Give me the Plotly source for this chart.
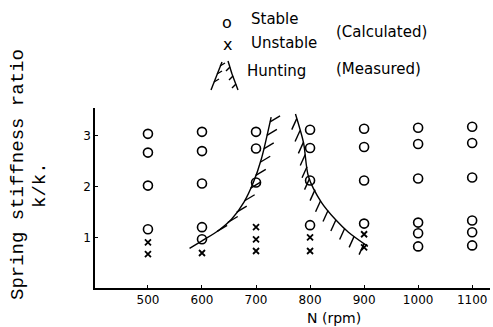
import numpy as np
import plotly.graph_objects as go

# ---- data ----
stable_N = [500]*4 + [600]*5 + [700]*3 + [800]*4 + [900]*4 + [1000]*6 + [1100]*6
stable_k = [3.04, 2.67, 2.02, 1.16,
            3.08, 2.70, 2.06, 1.20, 0.96,
            3.08, 2.75, 2.08,
            3.12, 2.76, 2.12, 1.24,
            3.14, 2.78, 2.12, 1.27,
            3.16, 2.84, 2.16, 1.29, 1.08, 0.82,
            3.18, 2.86, 2.18, 1.33, 1.10, 0.84]
unstable_N = [500, 500, 600, 700, 700, 700, 800, 800, 900, 900]
unstable_k = [0.90, 0.67, 0.69, 1.20, 0.96, 0.73, 1.00, 0.73, 1.06, 0.80]
hunt_left_N = [577, 600, 630, 655, 678, 695, 710, 728]
hunt_left_k = [0.78, 0.93, 1.13, 1.36, 1.70, 2.08, 2.55, 3.37]
hunt_right_N = [773, 788, 797, 821, 847, 871, 907]
hunt_right_k = [3.43, 2.86, 2.20, 1.69, 1.35, 1.10, 0.82]
x_ticks = [500, 600, 700, 800, 900, 1000, 1100]
y_ticks = [1, 2, 3]

# ---- layout geometry ----
W, H = 493, 327
ML, MR, MT, MB = 95, 3, 108, 39
XR = [402, 1133]
YR = [0, 3.55]
pw, ph = W - ML - MR, H - MT - MB
sx = pw / (XR[1] - XR[0])   # px per rpm
sy = ph / (YR[1] - YR[0])   # px per unit k


def hatches(N, k, n, dxp, dyp, t0=0.05, t1=0.95):
    # resample curve in pixel space, add hatch segments
    px = (np.array(N) - XR[0]) * sx
    py = -(np.array(k)) * sy
    seg = np.hypot(np.diff(px), np.diff(py))
    s = np.concatenate([[0], np.cumsum(seg)])
    ts = np.linspace(t0, t1, n) * s[-1]
    hx = np.interp(ts, s, px)
    hy = np.interp(ts, s, py)
    xs, ys = [], []
    for a, b in zip(hx, hy):
        xs += [a / sx + XR[0], (a + dxp) / sx + XR[0], None]
        ys += [-b / sy, -(b + dyp) / sy, None]
    return xs, ys


fig = go.Figure()
line = dict(color="black", width=1.4)
fig.add_trace(go.Scatter(x=hunt_left_N, y=hunt_left_k, mode="lines",
                         line=dict(color="black", width=1.4, shape="spline", smoothing=0.8),
                         showlegend=False))
fig.add_trace(go.Scatter(x=hunt_right_N, y=hunt_right_k, mode="lines",
                         line=dict(color="black", width=1.4, shape="spline", smoothing=0.8),
                         showlegend=False))
hx, hy = hatches(hunt_left_N, hunt_left_k, 10, 10, -6, 0.2, 0.97)
fig.add_trace(go.Scatter(x=hx, y=hy, mode="lines", line=line, showlegend=False))
hx, hy = hatches(hunt_right_N, hunt_right_k, 13, -5, 11, 0.03, 0.97)
fig.add_trace(go.Scatter(x=hx, y=hy, mode="lines", line=line, showlegend=False))

fig.add_trace(go.Scatter(x=stable_N, y=stable_k, mode="markers",
                         marker=dict(symbol="circle-open", size=9,
                                     color="black", line=dict(width=1.6)),
                         showlegend=False))
fig.add_trace(go.Scatter(x=unstable_N, y=unstable_k, mode="markers",
                         marker=dict(symbol="x-thin-open", size=6,
                                     color="black", line=dict(width=1.8)),
                         showlegend=False))


def px2paper(x, y):
    return (x - ML) / pw, (H - MB - y) / ph


font = dict(family="DejaVu Sans", size=12, color="black")
lfont = dict(family="DejaVu Sans", size=15, color="black")
ann = []
for txt, x, y in [("o", 227, 23), ("x", 227, 45)]:
    X, Y = px2paper(x, y)
    ann.append(dict(text=txt, x=X, y=Y, xref="paper", yref="paper",
                    showarrow=False, xanchor="center", yanchor="middle",
                    font=dict(family="DejaVu Sans", size=16, color="black")))
for txt, x, y in [("Stable", 249, 19), ("Unstable", 249, 43), ("Hunting", 245, 71),
                  ("(Calculated)", 334, 32), ("(Measured)", 334, 69)]:
    X, Y = px2paper(x, y)
    ann.append(dict(text=txt, x=X, y=Y, xref="paper", yref="paper",
                    showarrow=False, xanchor="left", yanchor="middle", font=lfont))

# y-axis titles
X, Y = px2paper(18, 175)
ann.append(dict(text="Spring stiffness ratio", x=X, y=Y, xref="paper", yref="paper",
                showarrow=False, textangle=-90, xanchor="center", yanchor="middle",
                font=dict(family="Liberation Mono", size=19, color="black")))
X, Y = px2paper(40, 185)
ann.append(dict(text="k/k.", x=X, y=Y, xref="paper", yref="paper",
                showarrow=False, textangle=-90, xanchor="center", yanchor="middle",
                font=dict(family="Liberation Mono", size=19, color="black")))
X, Y = px2paper(334, 318)
ann.append(dict(text="N (rpm)", x=X, y=Y, xref="paper", yref="paper",
                showarrow=False, xanchor="center", yanchor="middle",
                font=dict(family="DejaVu Sans", size=14, color="black")))

# legend glyph for hunting (paper coords)
shapes = []
def seg(x0, y0, x1, y1):
    a, b = px2paper(x0, y0)
    c, d = px2paper(x1, y1)
    shapes.append(dict(type="line", xref="paper", yref="paper", x0=a, y0=b, x1=c, y1=d,
                       line=dict(color="black", width=1.4)))
seg(211, 90, 222, 62)
for (x, y) in [(214, 82), (217, 74), (220, 66)]:
    seg(x, y, x + 5, y - 3)
seg(228, 61, 232, 74)
seg(232, 74, 238, 90)
for (x, y) in [(230, 67), (233, 76), (236, 84)]:
    seg(x, y, x - 4, y + 4)

fig.update_layout(
    width=W, height=H, margin=dict(l=ML, r=MR, t=MT, b=MB),
    paper_bgcolor="white", plot_bgcolor="white",
    annotations=ann, shapes=shapes, showlegend=False,
    xaxis=dict(range=XR, tickvals=x_ticks, ticktext=[str(v) for v in x_ticks],
               showgrid=False, zeroline=False, showline=True, linecolor="black",
               linewidth=1.5, ticks="inside", ticklen=3, tickcolor="black",
               tickfont=font),
    yaxis=dict(range=YR, tickvals=y_ticks, ticktext=[str(v) for v in y_ticks],
               showgrid=False, zeroline=False, showline=True, linecolor="black",
               linewidth=1.5, ticks="inside", ticklen=3, tickcolor="black",
               tickfont=font),
)
fig.write_html("out.html")
